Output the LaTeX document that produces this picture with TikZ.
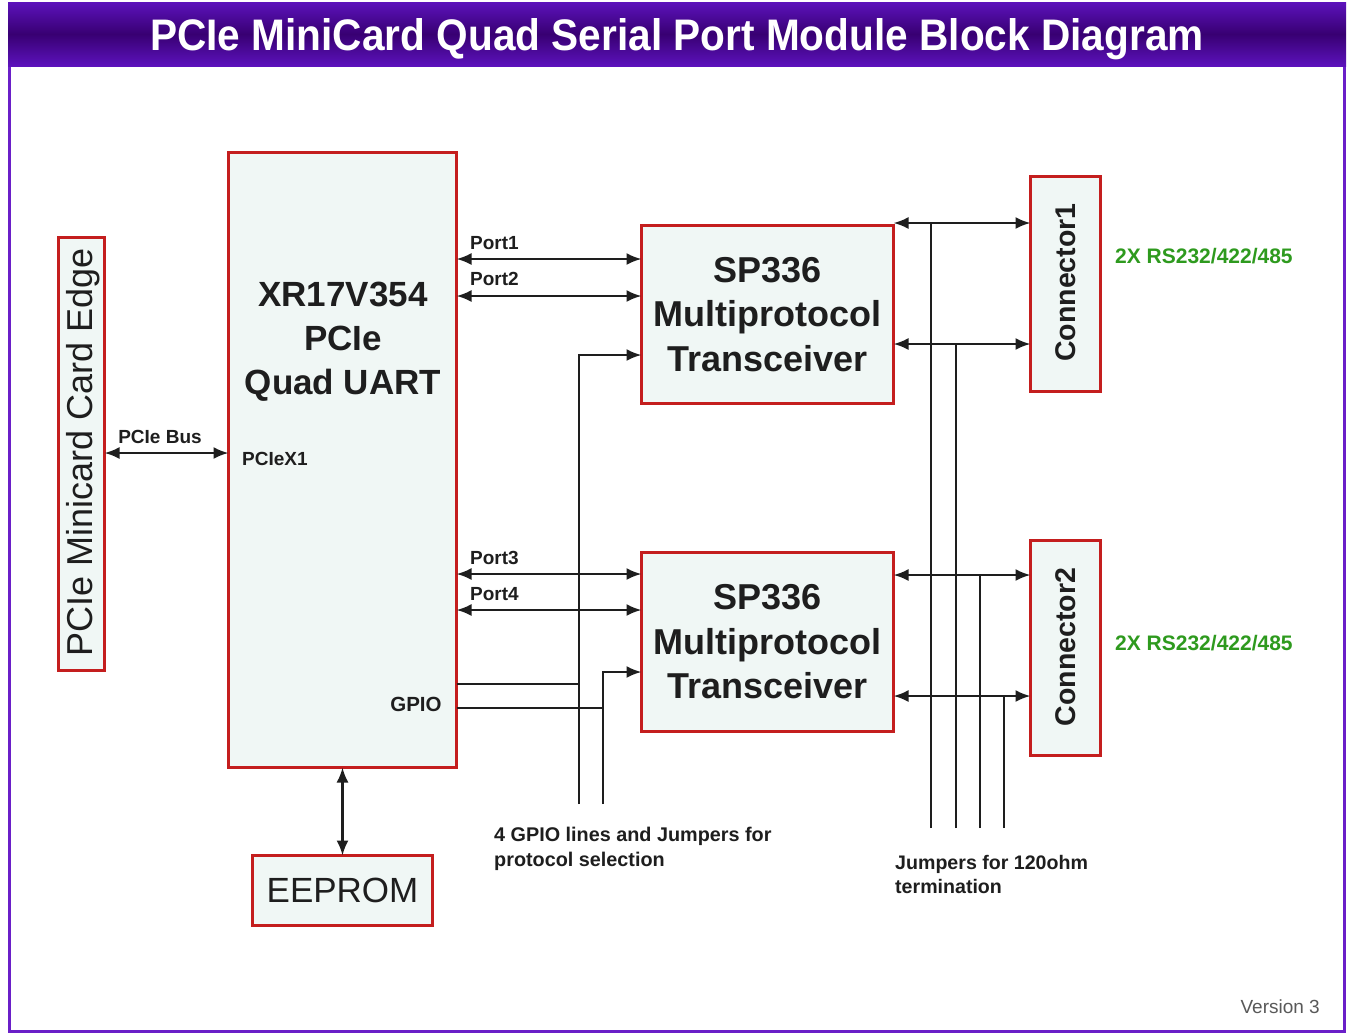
\documentclass[tikz,border=0pt]{standalone}
\usepackage{fontspec}
\setmainfont{Liberation Sans}
\usetikzlibrary{arrows.meta,calc}
\definecolor{boxred}{HTML}{C41E1E}
\definecolor{boxfill}{HTML}{F0F7F5}
\definecolor{titlepurple}{HTML}{5C12BC}
\definecolor{titledark}{HTML}{380072}
\definecolor{framepurple}{HTML}{6A1FC8}
\definecolor{rsgreen}{HTML}{2E9A1E}
\definecolor{ink}{HTML}{1E1E1E}
\begin{document}
\begin{tikzpicture}[x=1pt,y=-1pt,
 redbox/.style={draw=boxred, line width=3.5pt, fill=boxfill, inner sep=0pt, outer sep=0pt},
 conn/.style={line width=2.3pt, draw=ink},
 tip/.tip={Latex[length=15pt,width=12pt]},
 dbl/.style={conn, tip-tip},
 sgl/.style={conn, -tip},
 small/.style={font=\fontsize{19}{24}\selectfont\bfseries, text=ink, inner sep=0pt},
 big/.style={font=\fontsize{35}{44}\selectfont\bfseries, text=ink, align=center, inner sep=0pt},
 green/.style={font=\fontsize{21}{24}\selectfont\bfseries, text=rsgreen, inner sep=0pt, anchor=west}
]
\useasboundingbox (0,0) rectangle (1348,1034);
% frame and title
\fill[white] (0,0) rectangle (1348,1034);
\draw[framepurple, line width=3pt] (9.5,64) rectangle (1344.5,1031.5);
\shade[top color=titlepurple, bottom color=titlepurple, middle color=titledark] (8,2) rectangle (1346,66);
\node[anchor=base, text=white, inner sep=0pt, font=\bfseries] (title) at (677,50)
  {\resizebox{1053pt}{32pt}{PCIe MiniCard Quad Serial Port Module Block Diagram}};

% boxes
\node[redbox, minimum width=46pt, minimum height=433pt] (card) at (81.5,454) {};
\node[rotate=90, font=\fontsize{36}{40}\selectfont, text=ink, inner sep=0pt] (cardtxt) at (83,452) {PCIe Minicard Card Edge};
\node[redbox, minimum width=228pt, minimum height=615pt] (uart) at (342.5,460) {};
\node[big] (uarttxt) at (343,342) {XR17V354\\PCIe\\Quad UART};
\node[redbox, big, font=\fontsize{36}{44.5}\selectfont\bfseries, minimum width=252pt, minimum height=178pt] (sp1) at (767.5,314.5) {SP336\\Multiprotocol\\Transceiver};
\node[redbox, big, font=\fontsize{36}{44.5}\selectfont\bfseries, minimum width=252pt, minimum height=179pt] (sp2) at (767.5,642) {SP336\\Multiprotocol\\Transceiver};
\node[redbox, minimum width=70pt, minimum height=215pt] (con1) at (1065.5,284) {};
\node[rotate=90, font=\fontsize{28.5}{32}\selectfont\bfseries, text=ink, inner sep=0pt] (con1txt) at (1066,282.5) {Connector1};
\node[redbox, minimum width=70pt, minimum height=215pt] (con2) at (1065.5,648) {};
\node[rotate=90, font=\fontsize{28.5}{32}\selectfont\bfseries, text=ink, inner sep=0pt] (con2txt) at (1066,647) {Connector2};
\node[redbox, minimum width=180pt, minimum height=70pt, font=\fontsize{35}{40}\selectfont, text=ink] (eeprom) at (342.5,890.5) {EEPROM};

% labels
\node[small] (buslbl) at (160,437) {PCIe Bus};
\node[small, anchor=west] (x1lbl) at (242,459) {PCIeX1};
\node[small, font=\fontsize{20.5}{24}\selectfont\bfseries] (gpiolbl) at (416,704) {GPIO};
\node[small, anchor=west] (p1lbl) at (470,243) {Port1};
\node[small, anchor=west] (p2lbl) at (470,279) {Port2};
\node[small, anchor=west] (p3lbl) at (470,558) {Port3};
\node[small, anchor=west] (p4lbl) at (470,594) {Port4};
\node[green] (rs1) at (1115,256) {2X RS232/422/485};
\node[green] (rs2) at (1115,643) {2X RS232/422/485};
\node[small, anchor=west, align=left, font=\fontsize{19.8}{25}\selectfont\bfseries] (gpionote) at (494,849) {4 GPIO lines and Jumpers for\\protocol selection};
\node[small, anchor=west, align=left, font=\fontsize{19.6}{24}\selectfont\bfseries] (jmpnote) at (895,874) {Jumpers for 120ohm\\termination};
\node[anchor=east, font=\fontsize{19}{22}\selectfont, text=black!65, inner sep=0pt] (ver) at (1320,1007) {Version 3};

% connectors
\draw[dbl] (card.east |- 0,453) -- (uart.west |- 0,453);
\draw[dbl] (uart.east |- 0,259) -- (sp1.west |- 0,259);
\draw[dbl] (uart.east |- 0,296) -- (sp1.west |- 0,296);
\draw[dbl] (uart.east |- 0,574) -- (sp2.west |- 0,574);
\draw[dbl] (uart.east |- 0,610) -- (sp2.west |- 0,610);
\draw[dbl] (uart.south) -- (eeprom.north);

% GPIO lines
\coordinate (g1) at (579,804);
\coordinate (g2) at (603,804);
\draw[conn] (uart.east |- 0,684) -- (g1 |- 0,684);
\draw[sgl] (g1) |- (sp1.west |- 0,355);
\draw[conn] (uart.east |- 0,708) -- (g2 |- 0,708);
\draw[sgl] (g2) |- (sp2.west |- 0,672);

% transceiver to connector
\draw[dbl] (sp1.east |- 0,223) -- (con1.west |- 0,223);
\draw[dbl] (sp1.east |- 0,344) -- (con1.west |- 0,344);
\draw[dbl] (sp2.east |- 0,575) -- (con2.west |- 0,575);
\draw[dbl] (sp2.east |- 0,696) -- (con2.west |- 0,696);

% jumper lines
\coordinate (j1) at (931,828);
\coordinate (j2) at (956,828);
\coordinate (j3) at (980,828);
\coordinate (j4) at (1004,828);
\draw[conn] (j1) -- (j1 |- 0,223);
\draw[conn] (j2) -- (j2 |- 0,344);
\draw[conn] (j3) -- (j3 |- 0,575);
\draw[conn] (j4) -- (j4 |- 0,696);
\end{tikzpicture}
\end{document}
